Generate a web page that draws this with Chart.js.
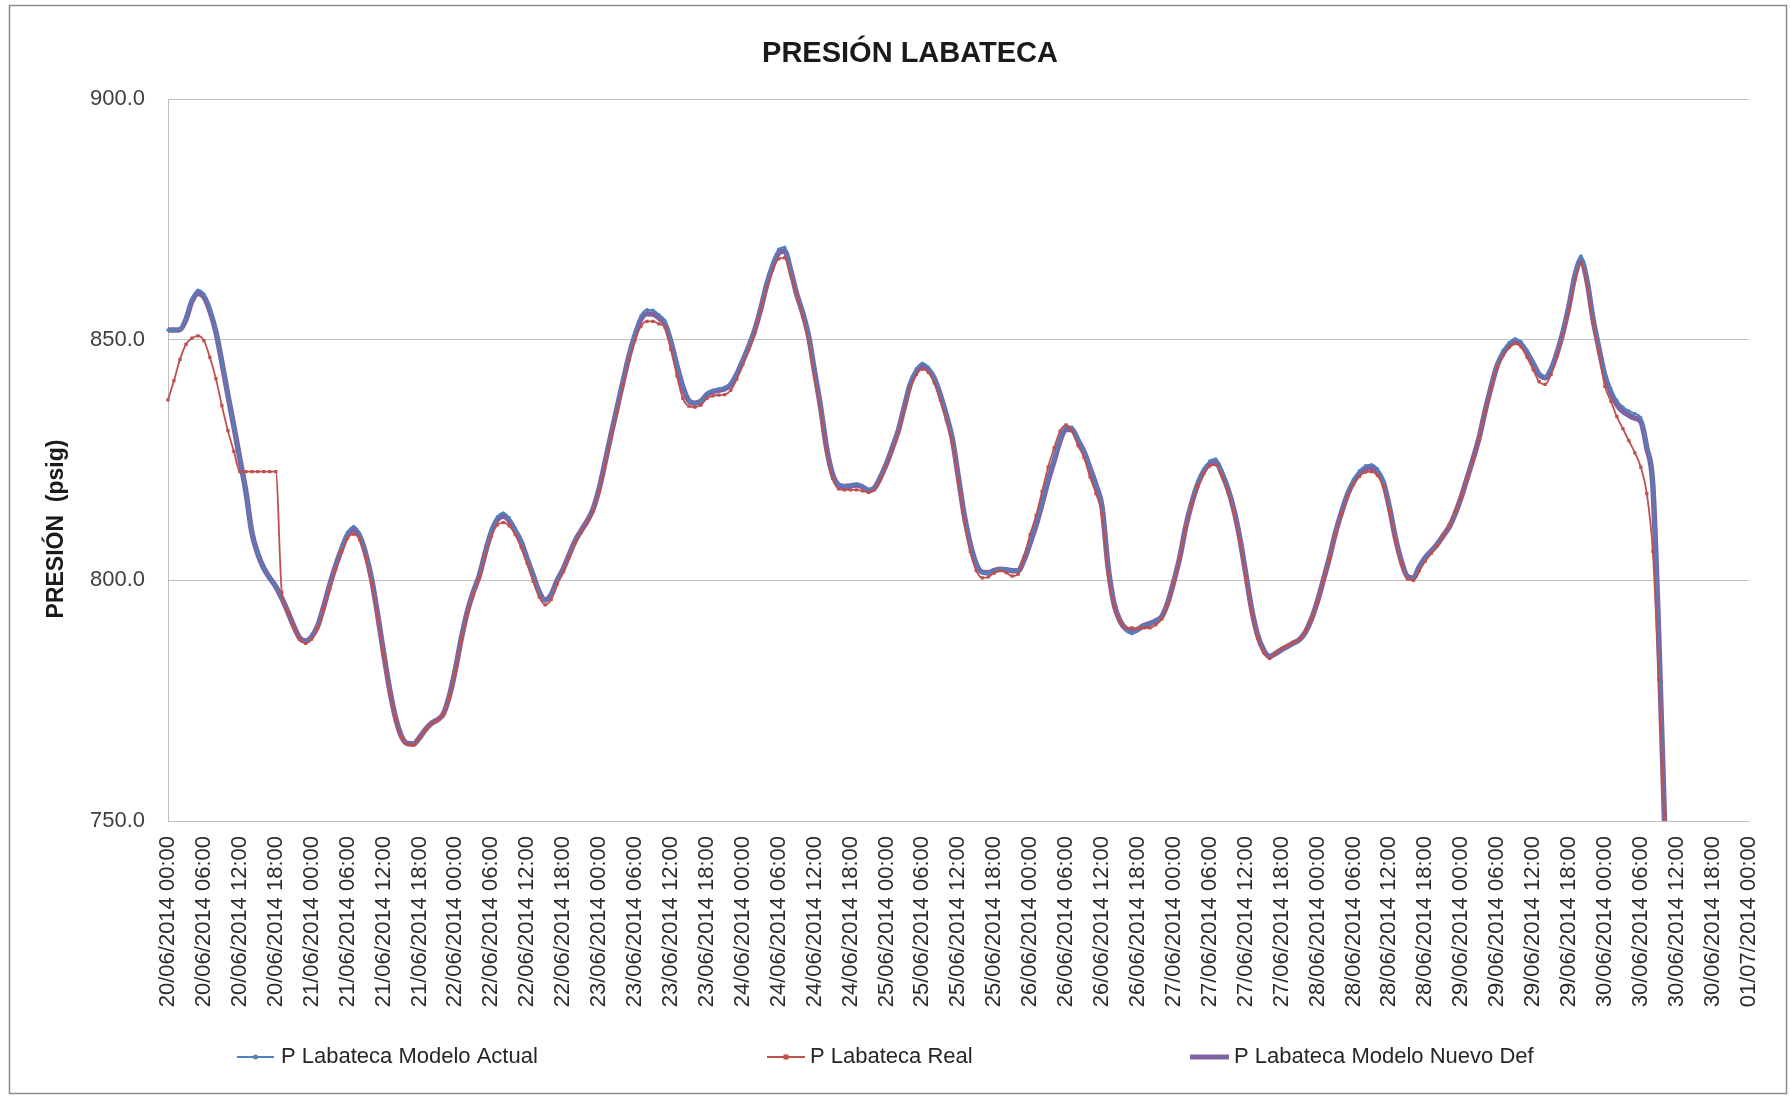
<!DOCTYPE html>
<html>
<head>
<meta charset="utf-8">
<script src="https://cdn.jsdelivr.net/npm/chart.js@4.4.1/dist/chart.umd.min.js"></script>
<style>
html,body{margin:0;padding:0;background:#ffffff;}
canvas{display:block;}
</style>
</head>
<body>
<canvas id="c" width="1790" height="1098"></canvas>
<script>
// ---------------- DATA ----------------
const chartTitle = "PRESIÓN LABATECA";
const yAxisTitle = "PRESIÓN  (psig)";
const seriesNames = ["P Labateca Modelo Actual", "P Labateca Real", "P Labateca Modelo Nuevo Def"];

const tickLabels = [
  "20/06/2014 00:00","20/06/2014 06:00","20/06/2014 12:00","20/06/2014 18:00",
  "21/06/2014 00:00","21/06/2014 06:00","21/06/2014 12:00","21/06/2014 18:00",
  "22/06/2014 00:00","22/06/2014 06:00","22/06/2014 12:00","22/06/2014 18:00",
  "23/06/2014 00:00","23/06/2014 06:00","23/06/2014 12:00","23/06/2014 18:00",
  "24/06/2014 00:00","24/06/2014 06:00","24/06/2014 12:00","24/06/2014 18:00",
  "25/06/2014 00:00","25/06/2014 06:00","25/06/2014 12:00","25/06/2014 18:00",
  "26/06/2014 00:00","26/06/2014 06:00","26/06/2014 12:00","26/06/2014 18:00",
  "27/06/2014 00:00","27/06/2014 06:00","27/06/2014 12:00","27/06/2014 18:00",
  "28/06/2014 00:00","28/06/2014 06:00","28/06/2014 12:00","28/06/2014 18:00",
  "29/06/2014 00:00","29/06/2014 06:00","29/06/2014 12:00","29/06/2014 18:00",
  "30/06/2014 00:00","30/06/2014 06:00","30/06/2014 12:00","30/06/2014 18:00",
  "01/07/2014 00:00"
];
const yTicks = [750, 800, 850, 900];

// hourly readings from 20/06/2014 00:00
const modeloActual = [
  852.0, 852.0, 852.2, 854.5, 858.5, 860.3, 859.5, 856.5, 852.0, 845.5,
  838.5, 832.0, 825.2, 818.5, 810.0, 805.5, 802.5, 800.5, 798.7, 796.3,
  793.5, 790.5, 788.0, 787.3, 788.3, 790.5, 794.5, 799.0, 803.0, 806.8,
  810.0, 811.2, 809.8, 806.0, 800.5, 793.0, 785.0, 777.5, 771.5, 767.5,
  766.0, 765.9, 767.3, 769.0, 770.3, 771.0, 772.3, 776.0, 781.5, 788.0,
  793.5, 797.6, 801.0, 806.0, 810.5, 813.2, 814.0, 813.0, 810.8, 808.2,
  804.6, 801.0, 797.6, 795.8, 797.0, 800.0, 802.3, 805.3, 808.2, 810.3,
  812.3, 814.8, 819.0, 824.5, 830.5, 836.0, 841.6, 847.0, 851.5, 855.0,
  856.2, 856.1, 855.2, 854.0, 850.0, 845.0, 840.5, 837.4, 836.8, 837.2,
  838.8, 839.5, 839.8, 840.1, 841.0, 843.0, 845.8, 848.8, 852.2, 856.8,
  862.0, 866.0, 868.8, 869.2, 865.0, 860.0, 856.0, 851.0, 843.5, 836.0,
  827.5, 822.0, 819.8, 819.5, 819.7, 820.0, 819.6, 818.8, 819.3, 821.5,
  824.3, 827.8, 831.5, 836.5, 841.3, 844.0, 845.1, 844.3, 842.3, 838.8,
  834.5, 829.5, 821.5, 813.5, 807.5, 803.3, 801.6, 801.5, 802.0, 802.4,
  802.3, 802.1, 802.1, 804.5, 808.0, 811.8, 816.3, 821.0, 825.2, 829.5,
  832.0, 831.8, 829.5, 827.0, 823.5, 820.0, 815.5, 803.0, 795.0, 791.5,
  789.8, 788.9, 789.6, 790.5, 791.0, 791.6, 792.5, 795.5, 800.0, 805.0,
  811.5, 816.5, 820.5, 823.2, 824.8, 825.2, 822.8, 819.5, 815.0, 809.0,
  801.5, 794.0, 788.5, 785.3, 783.9, 784.6, 785.5, 786.2, 786.9, 787.6,
  789.3, 792.0, 795.8, 800.3, 805.0, 810.2, 814.5, 818.3, 821.0, 822.8,
  823.8, 824.0, 823.2, 820.8, 815.5, 809.0, 804.0, 800.7, 800.3, 802.8,
  804.8, 806.2, 807.6, 809.4, 811.2, 814.0, 817.5, 821.5, 825.5, 830.0,
  835.5, 840.6, 845.1, 847.8, 849.4, 850.2, 849.6, 847.8, 845.5, 843.0,
  842.3, 844.0, 847.5, 852.0, 857.5, 864.0, 867.4, 863.0, 854.8, 848.5,
  843.0, 839.8, 837.4, 836.0, 835.2, 834.6, 833.8, 828.0, 820.0, 788.0,
  748.0
];

const real = [
  837.5, 841.5, 845.9, 849.0, 850.3, 850.8, 849.8, 846.3, 841.9, 836.3,
  831.1, 826.8, 822.6, 822.6, 822.6, 822.6, 822.6, 822.6, 822.6, 797.5,
  793.5, 790.3, 787.8, 786.9, 787.8, 790.0, 794.0, 798.3, 802.3, 806.0,
  808.8, 809.6, 808.5, 804.8, 799.5, 792.3, 784.5, 777.0, 771.2, 767.3,
  765.9, 765.8, 767.2, 768.9, 770.2, 770.9, 772.2, 775.8, 781.0, 787.5,
  793.0, 797.0, 800.5, 805.0, 809.2, 811.5, 812.0, 811.3, 809.5, 806.8,
  803.5, 799.8, 796.5, 794.9, 796.0, 799.2, 801.8, 804.8, 807.8, 810.0,
  812.0, 814.4, 818.5, 824.0, 829.8, 835.0, 840.6, 845.8, 850.0, 852.8,
  853.8, 853.8, 853.3, 852.6, 848.0, 842.5, 837.8, 836.2, 836.0, 836.4,
  837.8, 838.3, 838.5, 838.6, 839.5, 841.8, 844.8, 848.0, 851.5, 856.0,
  860.8, 864.5, 866.8, 867.0, 863.5, 859.6, 854.8, 849.5, 842.0, 835.0,
  826.8, 821.2, 819.0, 818.8, 818.8, 818.8, 818.6, 818.3, 818.8, 821.0,
  823.8, 827.0, 830.8, 835.5, 840.2, 842.8, 843.9, 843.2, 841.0, 837.5,
  833.3, 828.5, 820.8, 812.5, 806.0, 802.0, 800.5, 800.7, 801.5, 802.0,
  801.6, 800.9, 801.3, 805.0, 809.5, 813.5, 818.5, 823.5, 827.5, 831.0,
  832.3, 831.0, 828.0, 825.5, 821.5, 818.0, 813.8, 801.5, 794.5, 791.5,
  790.2, 790.1, 790.0, 790.1, 790.1, 790.8, 792.0, 795.0, 799.5, 804.6,
  811.0, 815.8, 819.6, 822.2, 823.8, 824.0, 821.8, 818.6, 814.2, 808.3,
  800.8, 793.5, 788.0, 785.0, 783.8, 784.8, 785.8, 786.5, 787.1, 787.8,
  789.5, 792.0, 795.5, 800.0, 804.5, 809.6, 813.8, 817.4, 820.0, 821.6,
  822.5, 822.6, 821.8, 819.5, 814.5, 808.3, 803.5, 800.3, 800.0, 802.0,
  804.0, 805.6, 807.2, 809.2, 811.5, 814.3, 817.5, 821.3, 825.2, 829.6,
  835.0, 840.0, 844.3, 846.8, 848.4, 849.2, 848.5, 846.3, 843.8, 841.3,
  840.7, 842.8, 846.6, 851.0, 856.5, 862.5, 865.8, 861.5, 853.5, 847.3,
  840.3, 837.2, 834.0, 831.5, 829.0, 826.5, 823.5, 818.0, 806.0, 779.4,
  748.0
];

const modeloNuevoDef = [
  852.0, 852.0, 852.1, 854.2, 858.0, 859.6, 858.9, 856.0, 851.6, 845.3,
  838.5, 832.0, 825.2, 818.5, 810.0, 805.5, 802.5, 800.5, 798.7, 796.3,
  793.5, 790.5, 788.0, 787.4, 788.3, 790.5, 794.5, 799.0, 803.0, 806.5,
  809.5, 810.5, 809.2, 805.6, 800.3, 793.0, 785.0, 777.5, 771.5, 767.6,
  766.1, 766.0, 767.3, 769.0, 770.3, 771.0, 772.3, 776.0, 781.5, 788.0,
  793.5, 797.6, 801.0, 805.8, 810.0, 812.6, 813.3, 812.4, 810.3, 807.9,
  804.4, 801.0, 797.6, 795.9, 797.0, 800.0, 802.3, 805.3, 808.2, 810.3,
  812.3, 814.8, 819.0, 824.5, 830.3, 835.8, 841.3, 846.6, 850.9, 854.3,
  855.4, 855.3, 854.5, 853.3, 849.5, 844.6, 840.2, 837.3, 836.8, 837.2,
  838.6, 839.2, 839.5, 839.8, 840.7, 842.8, 845.6, 848.6, 852.0, 856.4,
  861.4, 865.3, 868.0, 868.4, 864.4, 859.5, 855.6, 850.7, 843.3, 836.0,
  827.5, 822.0, 819.8, 819.5, 819.6, 819.8, 819.4, 818.7, 819.2, 821.4,
  824.2, 827.6, 831.2, 836.1, 840.8, 843.4, 844.5, 843.8, 841.9, 838.5,
  834.3, 829.4, 821.5, 813.5, 807.5, 803.4, 801.7, 801.6, 802.0, 802.3,
  802.2, 802.0, 802.0, 804.3, 807.8, 811.5, 816.0, 820.7, 824.8, 829.0,
  831.4, 831.3, 829.1, 826.7, 823.3, 819.8, 815.3, 803.0, 795.2, 791.6,
  789.9, 789.3, 789.8, 790.6, 791.0, 791.6, 792.5, 795.4, 799.8, 804.8,
  811.2, 816.1, 820.0, 822.7, 824.2, 824.6, 822.3, 819.1, 814.8, 808.9,
  801.5, 794.0, 788.6, 785.5, 784.2, 784.8, 785.6, 786.3, 787.0, 787.7,
  789.3, 792.0, 795.7, 800.2, 804.8, 809.9, 814.1, 817.8, 820.4, 822.2,
  823.2, 823.4, 822.6, 820.3, 815.2, 808.9, 804.0, 800.8, 800.5, 802.8,
  804.7, 806.1, 807.5, 809.3, 811.1, 813.9, 817.3, 821.3, 825.3, 829.7,
  835.2, 840.2, 844.6, 847.2, 848.8, 849.5, 849.0, 847.3, 845.1, 842.8,
  842.1, 843.8, 847.2, 851.6, 857.0, 863.3, 866.6, 862.3, 854.4, 848.2,
  842.5, 839.0, 836.5, 835.1, 834.3, 833.7, 833.0, 827.5, 819.8, 788.0,
  748.0
];

// categories: hours elapsed since 20/06/2014 00:00 for each reading
const hoursSinceStart = modeloActual.map((_, i) => i);

// ---------------- STYLE ----------------
const COL_ACTUAL = '#4F81BD';
const COL_REAL = '#C0504D';
const COL_NUEVO = '#8064A2';
const FONT = "'Liberation Sans', Arial, sans-serif";

const decor = {
  id: 'decor',
  beforeDraw(chart) {
    const ctx = chart.ctx;
    ctx.save();
    ctx.fillStyle = '#ffffff';
    ctx.fillRect(0, 0, chart.width, chart.height);
    ctx.strokeStyle = '#8c8c8c';
    ctx.lineWidth = 1.5;
    ctx.strokeRect(9.5, 5.5, 1777, 1088);
    ctx.restore();
  },
  afterDraw(chart) {
    const ctx = chart.ctx;
    ctx.save();
    // title
    ctx.fillStyle = '#1a1a1a';
    ctx.font = "bold 29px " + FONT;
    ctx.textAlign = 'center';
    ctx.textBaseline = 'alphabetic';
    ctx.fillText(chartTitle, 910, 62);
    // y axis title
    ctx.save();
    ctx.translate(57, 529);
    ctx.rotate(-Math.PI / 2);
    ctx.font = "bold 23px " + FONT;
    ctx.textAlign = 'center';
    ctx.textBaseline = 'middle';
    ctx.fillText(yAxisTitle, 0, 0);
    ctx.restore();
    // legend
    const items = [
      {x0: 237, x1: 274, tx: 281, color: COL_ACTUAL, w: 2, marker: 'circle'},
      {x0: 767, x1: 805, tx: 810, color: COL_REAL, w: 1.8, marker: 'rect'},
      {x0: 1190, x1: 1229, tx: 1234, color: COL_NUEVO, w: 5, marker: null}
    ];
    const ly = 1057;
    ctx.font = "22px " + FONT;
    ctx.textAlign = 'left';
    ctx.textBaseline = 'middle';
    items.forEach((it, i) => {
      ctx.strokeStyle = it.color;
      ctx.lineWidth = it.w;
      ctx.beginPath();
      ctx.moveTo(it.x0, ly);
      ctx.lineTo(it.x1, ly);
      ctx.stroke();
      const cx = (it.x0 + it.x1) / 2;
      ctx.fillStyle = it.color;
      if (it.marker === 'circle') {
        ctx.beginPath(); ctx.arc(cx, ly, 2.5, 0, Math.PI * 2); ctx.fill();
      } else if (it.marker === 'rect') {
        ctx.fillRect(cx - 2.5, ly - 2.5, 5, 5);
      }
      ctx.fillStyle = '#262626';
      ctx.fillText(seriesNames[i], it.tx, ly);
    });
    ctx.restore();
  }
};

new Chart(document.getElementById('c'), {
  type: 'line',
  data: {
    labels: hoursSinceStart,
    datasets: [
      {
        label: seriesNames[0], data: modeloActual,
        borderColor: COL_ACTUAL, backgroundColor: COL_ACTUAL,
        borderWidth: 2, pointRadius: 1.7, pointBorderWidth: 0,
        pointBackgroundColor: COL_ACTUAL, cubicInterpolationMode: 'monotone',
        order: 1, clip: {left: 4, right: 4, top: 4, bottom: 0}
      },
      {
        label: seriesNames[1], data: real,
        borderColor: COL_REAL, backgroundColor: COL_REAL,
        borderWidth: 1.8, pointRadius: 2.3, pointStyle: 'rect', pointBorderWidth: 0,
        pointBackgroundColor: COL_REAL, cubicInterpolationMode: 'monotone',
        order: 0, clip: {left: 4, right: 4, top: 4, bottom: 0}
      },
      {
        label: seriesNames[2], data: modeloNuevoDef,
        borderColor: COL_NUEVO, backgroundColor: COL_NUEVO,
        borderWidth: 5.5, pointRadius: 0, cubicInterpolationMode: 'monotone',
        order: 2, clip: {left: 4, right: 4, top: 4, bottom: 0}
      }
    ]
  },
  options: {
    responsive: false,
    animation: false,
    devicePixelRatio: 1,
    layout: {padding: {left: 0, top: 99, right: 35, bottom: 0}},
    plugins: {legend: {display: false}, tooltip: {enabled: false}, title: {display: false}},
    scales: {
      x: {
        type: 'linear', min: 0, max: (tickLabels.length - 1) * 6,
        afterBuildTicks: s => { s.ticks = tickLabels.map((_, i) => ({value: i * 6})); },
        afterFit: s => { s.height = 277; },
        ticks: {
          autoSkip: false, maxRotation: 90, minRotation: 90, padding: 15,
          color: '#2b2b2b', font: {family: FONT, size: 22},
          callback: (v, i) => tickLabels[i]
        },
        grid: {display: false, drawTicks: false},
        border: {display: true, color: '#bfbfbf', width: 1}
      },
      y: {
        min: yTicks[0], max: yTicks[yTicks.length - 1],
        afterBuildTicks: s => { s.ticks = yTicks.map(v => ({value: v})); },
        afterFit: s => { s.width = 168; },
        ticks: {
          padding: 23, color: '#404040', font: {family: FONT, size: 22},
          callback: v => Number(v).toFixed(1)
        },
        grid: {color: '#c0c0c0', lineWidth: 1, drawTicks: false},
        border: {display: true, color: '#bfbfbf', width: 1}
      }
    }
  },
  plugins: [decor]
});
</script>
</body>
</html>
